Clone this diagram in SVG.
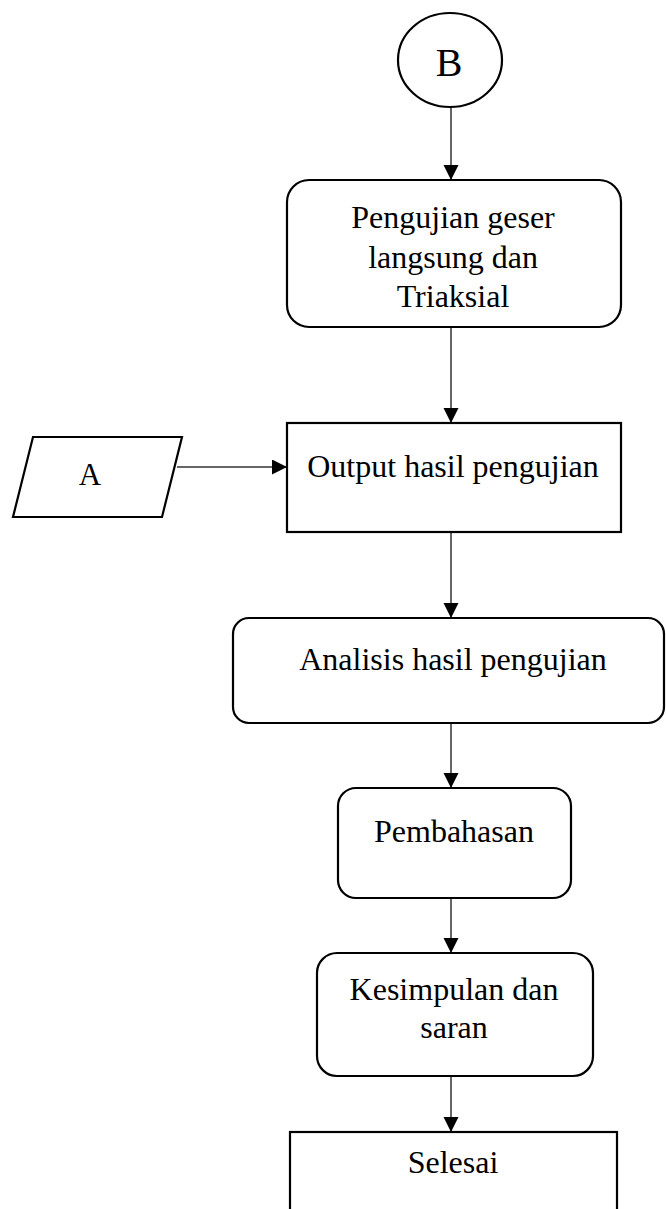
<svg xmlns="http://www.w3.org/2000/svg" width="666" height="1209" viewBox="0 0 666 1209">
<style>
.n{fill:#fff;stroke:#000;stroke-width:2.2}
.t{font-family:"Liberation Serif","Times New Roman",serif;font-size:32px;fill:#000;text-anchor:middle}
.c{stroke:#333;stroke-width:1.5;fill:none;marker-end:url(#ah)}
</style>
<defs>
<marker id="ah" markerUnits="userSpaceOnUse" markerWidth="16" markerHeight="16" refX="15" refY="7.5" orient="auto">
<path d="M0,0 L15,7.5 L0,15 Z" fill="#000"/>
</marker>
</defs>
<rect width="666" height="1209" fill="#fff"/>
<g id="connectors">
<line class="c" x1="451" y1="107" x2="451" y2="180"/>
<line class="c" x1="451" y1="327" x2="451" y2="423"/>
<line class="c" x1="177" y1="467" x2="287" y2="467"/>
<line class="c" x1="451" y1="532" x2="451" y2="618"/>
<line class="c" x1="451" y1="723" x2="451" y2="788"/>
<line class="c" x1="451" y1="898" x2="451" y2="953"/>
<line class="c" x1="451" y1="1076" x2="451" y2="1132"/>
</g>
<g id="nodeB">
<ellipse class="n" cx="450" cy="60" rx="52" ry="47"/>
<text class="t" x="449" y="76" style="font-size:40px">B</text>
</g>
<g id="node1">
<rect class="n" x="287" y="180" width="334" height="147" rx="22"/>
<text class="t" x="453" y="228">Pengujian geser</text>
<text class="t" x="453" y="268">langsung dan</text>
<text class="t" x="453" y="307">Triaksial</text>
</g>
<g id="nodeA">
<polygon class="n" points="33,437 182,437 162,517 13,517"/>
<text class="t" x="90" y="485" style="font-size:31px">A</text>
</g>
<g id="node2">
<rect class="n" x="287" y="423" width="334" height="109"/>
<text class="t" x="453" y="477">Output hasil pengujian</text>
</g>
<g id="node3">
<rect class="n" x="233" y="618" width="431" height="105" rx="16"/>
<text class="t" x="453" y="670">Analisis hasil pengujian</text>
</g>
<g id="node4">
<rect class="n" x="338" y="788" width="233" height="110" rx="18"/>
<text class="t" x="454" y="842">Pembahasan</text>
</g>
<g id="node5">
<rect class="n" x="317" y="953" width="276" height="123" rx="20"/>
<text class="t" x="454" y="1000">Kesimpulan dan</text>
<text class="t" x="454" y="1038">saran</text>
</g>
<g id="node6">
<rect class="n" x="290" y="1132" width="327" height="100"/>
<text class="t" x="453" y="1173">Selesai</text>
</g>
</svg>
